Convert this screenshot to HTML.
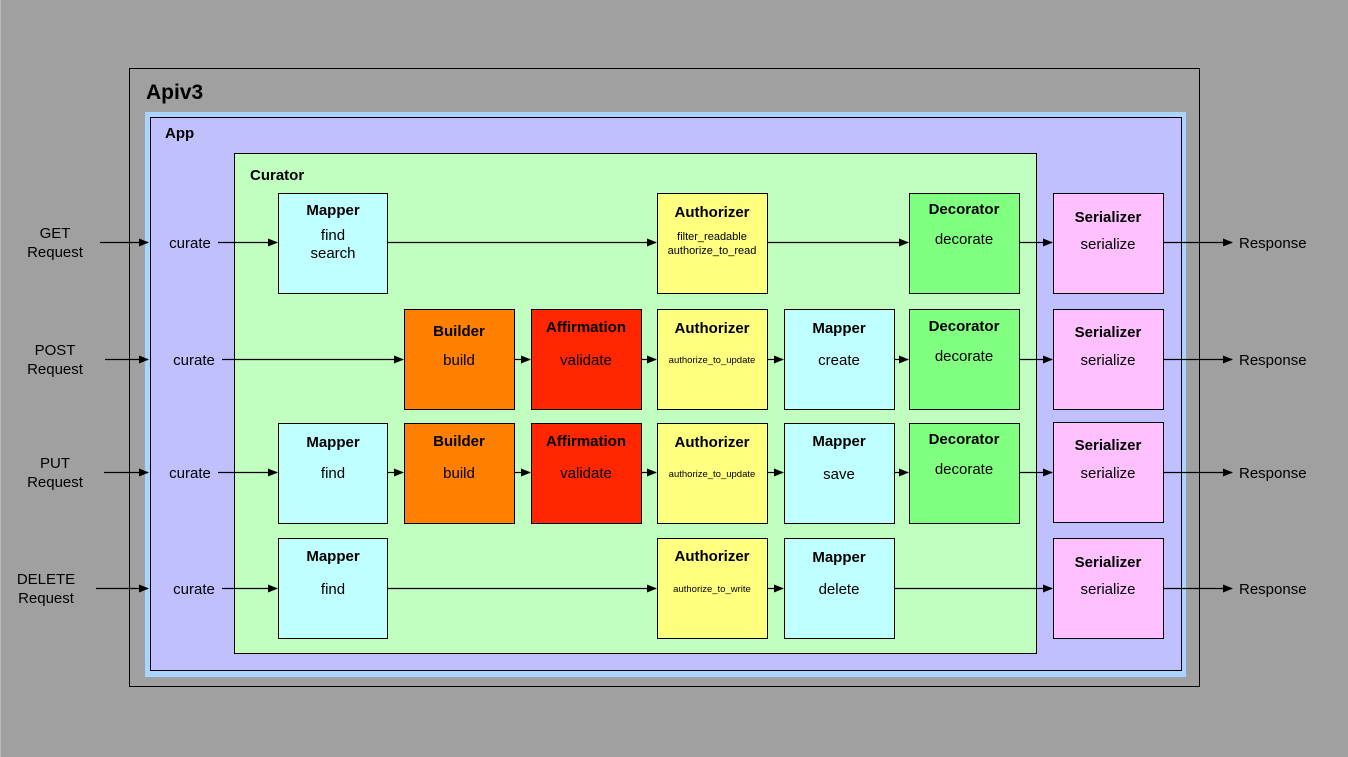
<!DOCTYPE html>
<html><head><meta charset="utf-8"><style>
html,body{margin:0;padding:0;background:#a0a0a0;}
svg{display:block;font-family:"Liberation Sans",Arial,sans-serif;}
</style></head><body>
<svg width="1348" height="757" viewBox="0 0 1348 757" xmlns="http://www.w3.org/2000/svg">
<defs><marker id="a" markerWidth="10" markerHeight="8" refX="9" refY="4" orient="auto" markerUnits="userSpaceOnUse"><path d="M0,0 L10,4 L0,8 z" fill="#000"/></marker></defs>
<rect x="0" y="0" width="1348" height="757" fill="#a0a0a0"/>
<line x1="0.5" y1="0" x2="0.5" y2="757" stroke="#bbb"/>
<rect x="129.5" y="68.5" width="1070" height="618" fill="#a0a0a0" stroke="#000"/>
<text x="146" y="99" font-size="21" font-weight="bold">Apiv3</text>
<rect x="145" y="112" width="1041" height="565" fill="#a8d4ff"/>
<rect x="150.5" y="117.5" width="1031" height="553" fill="#c0c0ff" stroke="#000"/>
<text x="165" y="138" font-size="15" font-weight="bold">App</text>
<rect x="234.5" y="153.5" width="802" height="500" fill="#c0ffc0" stroke="#000"/>
<text x="250" y="180" font-size="15" font-weight="bold">Curator</text>
<g stroke="#000" stroke-width="1">
<!-- row1 -->
<rect x="278.5" y="193.5" width="109" height="100" fill="#c0ffff"/>
<rect x="657.5" y="193.5" width="110" height="100" fill="#ffff80"/>
<rect x="909.5" y="193.5" width="110" height="100" fill="#80ff80"/>
<rect x="1053.5" y="193.5" width="110" height="100" fill="#ffc0ff"/>
<!-- row2 -->
<rect x="404.5" y="309.5" width="110" height="100" fill="#ff8000"/>
<rect x="531.5" y="309.5" width="110" height="100" fill="#ff2600"/>
<rect x="657.5" y="309.5" width="110" height="100" fill="#ffff80"/>
<rect x="784.5" y="309.5" width="110" height="100" fill="#c0ffff"/>
<rect x="909.5" y="309.5" width="110" height="100" fill="#80ff80"/>
<rect x="1053.5" y="309.5" width="110" height="100" fill="#ffc0ff"/>
<!-- row3 -->
<rect x="278.5" y="423.5" width="109" height="100" fill="#c0ffff"/>
<rect x="404.5" y="423.5" width="110" height="100" fill="#ff8000"/>
<rect x="531.5" y="423.5" width="110" height="100" fill="#ff2600"/>
<rect x="657.5" y="423.5" width="110" height="100" fill="#ffff80"/>
<rect x="784.5" y="423.5" width="110" height="100" fill="#c0ffff"/>
<rect x="909.5" y="423.5" width="110" height="100" fill="#80ff80"/>
<rect x="1053.5" y="422.5" width="110" height="100" fill="#ffc0ff"/>
<!-- row4 -->
<rect x="278.5" y="538.5" width="109" height="100" fill="#c0ffff"/>
<rect x="657.5" y="538.5" width="110" height="100" fill="#ffff80"/>
<rect x="784.5" y="538.5" width="110" height="100" fill="#c0ffff"/>
<rect x="1053.5" y="538.5" width="110" height="100" fill="#ffc0ff"/>
</g>
<g stroke="#000" stroke-width="1.2" marker-end="url(#a)">
<line x1="100" y1="242.5" x2="148" y2="242.5"/>
<line x1="218" y1="242.5" x2="277" y2="242.5"/>
<line x1="388" y1="242.5" x2="656" y2="242.5"/>
<line x1="768" y1="242.5" x2="908" y2="242.5"/>
<line x1="1020" y1="242.5" x2="1052" y2="242.5"/>
<line x1="1164" y1="242.5" x2="1232" y2="242.5"/>

<line x1="105" y1="359.5" x2="148" y2="359.5"/>
<line x1="222" y1="359.5" x2="403" y2="359.5"/>
<line x1="515" y1="359.5" x2="530" y2="359.5"/>
<line x1="642" y1="359.5" x2="656" y2="359.5"/>
<line x1="768" y1="359.5" x2="783" y2="359.5"/>
<line x1="895" y1="359.5" x2="908" y2="359.5"/>
<line x1="1020" y1="359.5" x2="1052" y2="359.5"/>
<line x1="1164" y1="359.5" x2="1232" y2="359.5"/>

<line x1="104" y1="472.5" x2="148" y2="472.5"/>
<line x1="218" y1="472.5" x2="277" y2="472.5"/>
<line x1="388" y1="472.5" x2="403" y2="472.5"/>
<line x1="515" y1="472.5" x2="530" y2="472.5"/>
<line x1="642" y1="472.5" x2="656" y2="472.5"/>
<line x1="768" y1="472.5" x2="783" y2="472.5"/>
<line x1="895" y1="472.5" x2="908" y2="472.5"/>
<line x1="1020" y1="472.5" x2="1052" y2="472.5"/>
<line x1="1164" y1="472.5" x2="1232" y2="472.5"/>

<line x1="96" y1="588.5" x2="148" y2="588.5"/>
<line x1="222" y1="588.5" x2="277" y2="588.5"/>
<line x1="388" y1="588.5" x2="656" y2="588.5"/>
<line x1="768" y1="588.5" x2="783" y2="588.5"/>
<line x1="895" y1="588.5" x2="1052" y2="588.5"/>
<line x1="1164" y1="588.5" x2="1232" y2="588.5"/>
</g>
<g font-size="15" text-anchor="middle" fill="#000">
<text x="55" y="238">GET</text><text x="55" y="257">Request</text>
<text x="55" y="355">POST</text><text x="55" y="374">Request</text>
<text x="55" y="468">PUT</text><text x="55" y="487">Request</text>
<text x="46" y="584">DELETE</text><text x="46" y="603">Request</text>
<text x="190" y="248">curate</text>
<text x="194" y="365">curate</text>
<text x="190" y="478">curate</text>
<text x="194" y="594">curate</text>
<g text-anchor="start"><text x="1239" y="248">Response</text><text x="1239" y="365">Response</text><text x="1239" y="478">Response</text><text x="1239" y="594">Response</text></g>
</g>
<g text-anchor="middle" fill="#000">
<g font-size="15" font-weight="bold">
<text x="333" y="215">Mapper</text>
<text x="712" y="217">Authorizer</text>
<text x="964" y="214">Decorator</text>
<text x="1108" y="222">Serializer</text>
<text x="459" y="336">Builder</text>
<text x="586" y="332">Affirmation</text>
<text x="712" y="333">Authorizer</text>
<text x="839" y="333">Mapper</text>
<text x="964" y="331">Decorator</text>
<text x="1108" y="337">Serializer</text>
<text x="333" y="447">Mapper</text>
<text x="459" y="446">Builder</text>
<text x="586" y="446">Affirmation</text>
<text x="712" y="447">Authorizer</text>
<text x="839" y="446">Mapper</text>
<text x="964" y="444">Decorator</text>
<text x="1108" y="450">Serializer</text>
<text x="333" y="561">Mapper</text>
<text x="712" y="561">Authorizer</text>
<text x="839" y="562">Mapper</text>
<text x="1108" y="567">Serializer</text>
</g>
<g font-size="15">
<text x="333" y="240">find</text><text x="333" y="258">search</text>
<text x="964" y="244">decorate</text>
<text x="1108" y="249">serialize</text>
<text x="459" y="365">build</text>
<text x="586" y="365">validate</text>
<text x="839" y="365">create</text>
<text x="964" y="361">decorate</text>
<text x="1108" y="365">serialize</text>
<text x="333" y="478">find</text>
<text x="459" y="478">build</text>
<text x="586" y="478">validate</text>
<text x="839" y="479">save</text>
<text x="964" y="474">decorate</text>
<text x="1108" y="478">serialize</text>
<text x="333" y="594">find</text>
<text x="839" y="594">delete</text>
<text x="1108" y="594">serialize</text>
</g>
<text x="712" y="240" font-size="11">filter_readable</text>
<text x="712" y="254" font-size="11">authorize_to_read</text>
<g font-size="9.5">
<text x="712" y="363">authorize_to_update</text>
<text x="712" y="477">authorize_to_update</text>
<text x="712" y="592">authorize_to_write</text>
</g>
</g>
</svg>
</body></html>
